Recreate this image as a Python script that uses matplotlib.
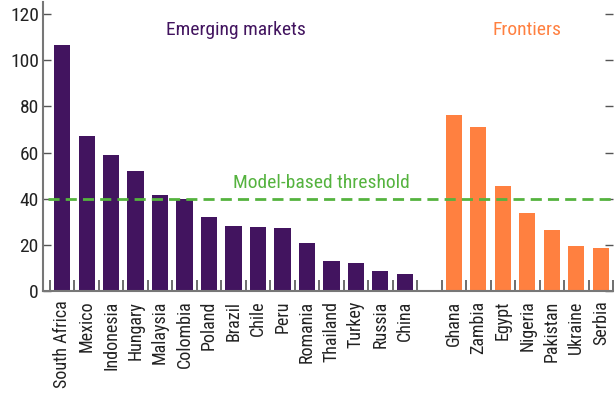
import numpy as np
import matplotlib.pyplot as plt
from matplotlib.ticker import FixedLocator

plt.rcParams['font.family'] = ['Roboto Condensed', 'DejaVu Sans']

emerging = ['South Africa', 'Mexico', 'Indonesia', 'Hungary', 'Malaysia', 'Colombia',
            'Poland', 'Brazil', 'Chile', 'Peru', 'Romania', 'Thailand', 'Turkey',
            'Russia', 'China']
emerging_vals = [106.6, 67.2, 59.0, 52.0, 41.6, 39.9, 32.0, 28.2, 27.7, 27.3, 20.8,
                 13.0, 12.1, 8.7, 7.4]

frontier = ['Ghana', 'Zambia', 'Egypt', 'Nigeria', 'Pakistan', 'Ukraine', 'Serbia']
frontier_vals = [76.2, 71.0, 45.5, 34.0, 26.4, 19.5, 18.6]

threshold = 40
yticks = [0, 20, 40, 60, 80, 100, 120]

purple = '#42145f'
orange = '#ff8040'
green = '#55b33f'

fig = plt.figure(figsize=(6.16, 3.95), dpi=100)
ax = fig.add_axes([43 / 616, 104 / 395, 570 / 616, 289 / 395])

# one empty slot between the two groups
x_em = np.arange(len(emerging))
x_fr = np.arange(len(frontier)) + len(emerging) + 1

ax.bar(x_em, emerging_vals, width=0.66, color=purple, zorder=2)
ax.bar(x_fr, frontier_vals, width=0.66, color=orange, zorder=2)
ax.axhline(threshold, xmin=0.009, color=green, lw=2, ls=(0, (4, 2.2)), zorder=3)

ax.set_xlim(-0.78, x_fr[-1] + 0.5)
ax.set_ylim(0, 125.2)

ax.set_xticks(np.concatenate([x_em, x_fr]))
ax.set_xticklabels(emerging + frontier, rotation=90, fontsize=13, color='#222222')
ax.xaxis.set_minor_locator(FixedLocator(np.arange(-0.5, x_fr[-1] + 0.6, 1)))
ax.tick_params(axis='x', which='major', length=0, pad=7)
ax.tick_params(axis='x', which='minor', direction='in', length=8, width=1.2, color='#555555')

ax.set_yticks(yticks)
ax.tick_params(axis='y', direction='in', length=6, width=1, color='#555555',
               labelsize=14, labelcolor='#222222', pad=3, right=True)

for side in ['top', 'right']:
    ax.spines[side].set_visible(False)
for side in ['left', 'bottom']:
    ax.spines[side].set_color('#777777')
    ax.spines[side].set_linewidth(1.5)

ax.text(7.1, 113, 'Emerging markets', color=purple, fontsize=14, ha='center', va='center')
ax.text(19.0, 113, 'Frontiers', color=orange, fontsize=14, ha='center', va='center')
ax.text(10.6, 47, 'Model-based threshold', color=green, fontsize=14, ha='center', va='center')

fig.savefig('out.png', dpi=100)
